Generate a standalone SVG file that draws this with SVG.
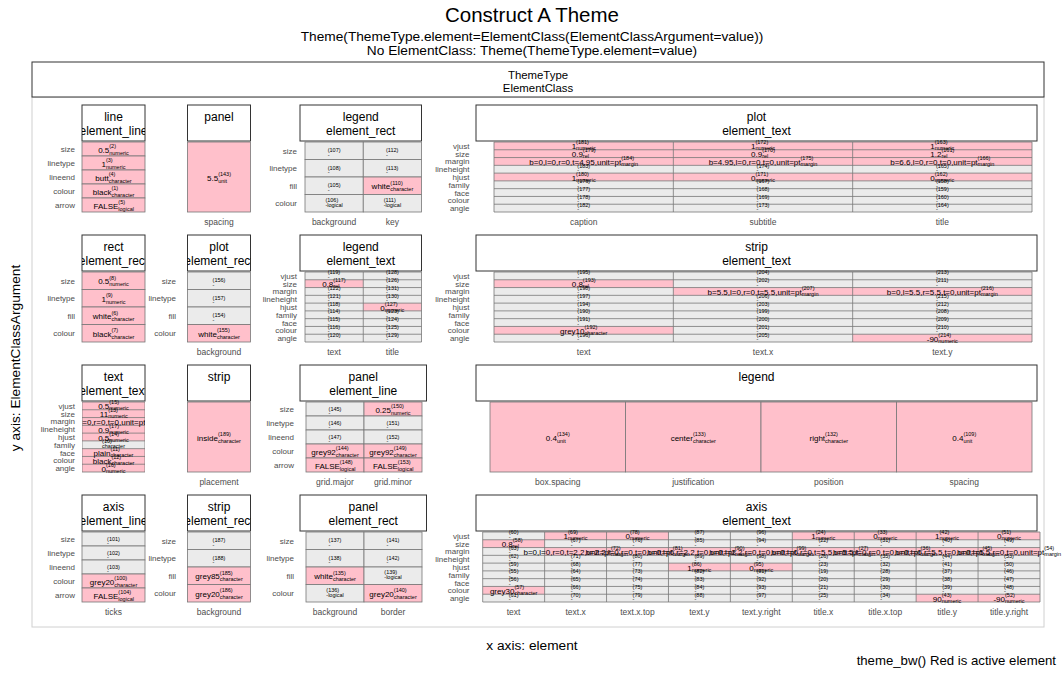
<svg xmlns="http://www.w3.org/2000/svg" width="1064" height="675" viewBox="0 0 1064 675">
<defs>
<style>
text{font-family:"Liberation Sans",Arial,sans-serif;fill:#000}
.t{font-size:20.5px;text-anchor:middle}
.st{font-size:13.7px;text-anchor:middle}
.cap{font-size:13.2px;text-anchor:end}
.sh{font-size:11.4px;text-anchor:middle}
.hd{font-size:12px;text-anchor:middle}
.hb{fill:#fff;stroke:#333;stroke-width:1}
.rl{font-size:8px;text-anchor:end;fill:#4d4d4d}
.rs{font-size:8px;text-anchor:end;fill:#4d4d4d}
.cl{font-size:8.5px;text-anchor:middle;fill:#4d4d4d}
.v{font-size:8px;text-anchor:end}
.s{font-size:5.5px}
.p{fill:#ffc0cb;stroke:#777;stroke-width:.8}
.q{fill:#ebebeb;stroke:#777;stroke-width:.8}
.pk{fill:#ffc0cb}
.gb{fill:#ebebeb}
.gr{fill:none;stroke:#777;stroke-width:.8}
</style>
<clipPath id="cA"><rect x="82" y="0" width="63" height="675"/></clipPath>
<clipPath id="cB"><rect x="187.5" y="0" width="63" height="675"/></clipPath>
</defs>
<rect x="0" y="0" width="1064" height="675" fill="#fff"/>
<g id="titles">
<text class="t" x="532" y="22">Construct A Theme</text>
<text class="st" x="532" y="41">Theme(ThemeType.element=ElementClass(ElementClassArgument=value))</text>
<text class="st" x="532" y="55">No ElementClass: Theme(ThemeType.element=value)</text>
<text class="st" x="532" y="650">x axis: element</text>
<text class="st" transform="translate(20 358) rotate(-90)" x="0" y="0">y axis: ElementClassArgument</text>
<text class="cap" x="1056" y="665">theme_bw() Red is active element</text>
</g>
<g id="panel-frame">
<rect x="32" y="97" width="1012" height="530" fill="#fff" stroke="#d0d0d0" stroke-width="1"/>
<rect class="hb" x="32" y="62" width="1012" height="35"/>
<text class="sh" x="538" y="79">ThemeType</text>
<text class="sh" x="538" y="92">ElementClass</text>
</g>

<!-- ROW 1 -->
<g id="line">
<rect class="hb" x="82" y="105" width="63" height="36"/>
<g clip-path="url(#cA)"><text class="hd" x="113.5" y="121">line</text><text class="hd" x="113.5" y="134.5">element_line</text></g>
<rect class="p" x="82" y="142" width="63" height="14"/><rect class="p" x="82" y="156" width="63" height="14"/><rect class="p" x="82" y="170" width="63" height="14"/><rect class="p" x="82" y="184" width="63" height="14"/><rect class="p" x="82" y="198" width="63" height="14"/>
<text class="v" x="109.25" y="152.5">0.5</text><text class="s" x="109.25" y="148">(2)<tspan x="109.25" y="154.5">numeric</tspan></text>
<text class="v" x="105.9" y="166.5">1</text><text class="s" x="105.9" y="162">(3)<tspan x="105.9" y="168.5">numeric</tspan></text>
<text class="v" x="108.7" y="180.5">butt</text><text class="s" x="108.7" y="176">(4)<tspan x="108.7" y="182.5">character</tspan></text>
<text class="v" x="111.4" y="194.5">black</text><text class="s" x="111.4" y="190">(1)<tspan x="111.4" y="196.5">character</tspan></text>
<text class="v" x="118.35" y="208.5">FALSE</text><text class="s" x="118.35" y="204">(5)<tspan x="118.35" y="210.5">logical</tspan></text>
<text class="rl" x="75" y="152">size</text><text class="rl" x="75" y="166">linetype</text><text class="rl" x="75" y="180">lineend</text><text class="rl" x="75" y="194">colour</text><text class="rl" x="75" y="208">arrow</text>
</g>
<g id="panel">
<rect class="hb" x="187.5" y="105" width="63" height="36"/>
<text class="hd" x="219" y="121">panel</text>
<rect class="p" x="187.5" y="142" width="63" height="70"/>
<text class="v" x="218.15" y="180.5">5.5</text><text class="s" x="218.15" y="176">(143)<tspan x="218.15" y="182.5">unit</tspan></text>
<text class="cl" x="219" y="225">spacing</text>
</g>
<g id="legend-rect">
<rect class="hb" x="300" y="105" width="121.5" height="36"/>
<text class="hd" x="360.75" y="121">legend</text><text class="hd" x="360.75" y="134.5">element_rect</text>
<rect class="q" x="305" y="142" width="58.25" height="17.5"/><rect class="q" x="305" y="159.5" width="58.25" height="17.5"/><rect class="q" x="305" y="177" width="58.25" height="17.5"/><rect class="q" x="305" y="194.5" width="58.25" height="17.5"/>
<rect class="q" x="363.25" y="142" width="58.25" height="17.5"/><rect class="q" x="363.25" y="159.5" width="58.25" height="17.5"/><rect class="p" x="363.25" y="177" width="58.25" height="17.5"/><rect class="q" x="363.25" y="194.5" width="58.25" height="17.5"/>
<text class="s" x="327.7" y="152.25">(107)<tspan x="327.7" y="156.75">-</tspan></text>
<text class="s" x="327.7" y="169.75">(108)<tspan x="327.7" y="174.25">-</tspan></text>
<text class="s" x="327.7" y="187.25">(105)<tspan x="327.7" y="191.75">-</tspan></text>
<text class="s" x="325.4" y="201.75">(106)<tspan x="325.4" y="206.75">-logical</tspan></text>
<text class="s" x="386" y="152.25">(112)<tspan x="386" y="156.75">-</tspan></text>
<text class="s" x="386" y="169.75">(113)<tspan x="386" y="174.25">-</tspan></text>
<text class="v" x="390.3" y="189.25">white</text><text class="s" x="390.3" y="184.75">(110)<tspan x="390.3" y="191.25">character</tspan></text>
<text class="s" x="383.7" y="201.75">(111)<tspan x="383.7" y="206.75">-logical</tspan></text>
<text class="rl" x="297" y="153.75">size</text><text class="rl" x="297" y="171.25">linetype</text><text class="rl" x="297" y="188.75">fill</text><text class="rl" x="297" y="206.25">colour</text>
<text class="cl" x="334.1" y="225">background</text><text class="cl" x="392.4" y="225">key</text>
</g>
<g id="plot-text">
<rect class="hb" x="476" y="105" width="561" height="36"/>
<text class="hd" x="756.5" y="121">plot</text><text class="hd" x="756.5" y="134.5">element_text</text>
<rect class="gb" x="494" y="142" width="538" height="70"/>
<rect class="pk" x="494" y="142" width="538" height="23.33"/>
<rect class="pk" x="494" y="173.11" width="538" height="7.78"/>
<path class="gr" d="M494 142H1032M494 149.78H1032M494 157.56H1032M494 165.33H1032M494 173.11H1032M494 180.89H1032M494 188.67H1032M494 196.44H1032M494 204.22H1032M494 212H1032M494 142V212M673.33 142V212M852.67 142V212M1032 142V212"/>
<text class="v" x="576.1" y="149.4">1</text><text class="s" x="576.1" y="144.4">(181)<tspan x="576.1" y="150.4">numeric</tspan></text>
<text class="v" x="582.85" y="157.2">0.9</text><text class="s" x="582.85" y="152.2">(179)<tspan x="582.85" y="158.2">rel</tspan></text>
<text class="v" x="621.2" y="164.9">b=0,l=0,r=0,t=4.95,unit=pt</text><text class="s" x="621.2" y="159.9">(184)<tspan x="621.2" y="165.9">margin</tspan></text>
<text class="s" x="577.3" y="167.7">(183)<tspan x="577.3" y="172.2">-</tspan></text>
<text class="v" x="576.1" y="180.5">1</text><text class="s" x="576.1" y="175.5">(180)<tspan x="576.1" y="181.5">numeric</tspan></text>
<text class="s" x="577.3" y="183.3">(176)<tspan x="577.3" y="187.8">-</tspan></text>
<text class="s" x="577.3" y="191.1">(177)<tspan x="577.3" y="195.6">-</tspan></text>
<text class="s" x="577.3" y="198.8">(178)<tspan x="577.3" y="203.3">-</tspan></text>
<text class="s" x="577.3" y="206.6">(182)<tspan x="577.3" y="211.1">-</tspan></text>
<text class="v" x="755.4" y="149.4">1</text><text class="s" x="755.4" y="144.4">(172)<tspan x="755.4" y="150.4">numeric</tspan></text>
<text class="v" x="762.15" y="157.2">0.9</text><text class="s" x="762.15" y="152.2">(170)<tspan x="762.15" y="158.2">rel</tspan></text>
<text class="v" x="800.5" y="164.9">b=4.95,l=0,r=0,t=0,unit=pt</text><text class="s" x="800.5" y="159.9">(175)<tspan x="800.5" y="165.9">margin</tspan></text>
<text class="s" x="756.6" y="167.7">(174)<tspan x="756.6" y="172.2">-</tspan></text>
<text class="v" x="755.4" y="180.5">0</text><text class="s" x="755.4" y="175.5">(171)<tspan x="755.4" y="181.5">numeric</tspan></text>
<text class="s" x="756.6" y="183.3">(167)<tspan x="756.6" y="187.8">-</tspan></text>
<text class="s" x="756.6" y="191.1">(168)<tspan x="756.6" y="195.6">-</tspan></text>
<text class="s" x="756.6" y="198.8">(169)<tspan x="756.6" y="203.3">-</tspan></text>
<text class="s" x="756.6" y="206.6">(173)<tspan x="756.6" y="211.1">-</tspan></text>
<text class="v" x="934.7" y="149.4">1</text><text class="s" x="934.7" y="144.4">(163)<tspan x="934.7" y="150.4">numeric</tspan></text>
<text class="v" x="941.45" y="157.2">1.2</text><text class="s" x="941.45" y="152.2">(161)<tspan x="941.45" y="158.2">rel</tspan></text>
<text class="v" x="977.6" y="164.9">b=6.6,l=0,r=0,t=0,unit=pt</text><text class="s" x="977.6" y="159.9">(166)<tspan x="977.6" y="165.9">margin</tspan></text>
<text class="s" x="935.9" y="167.7">(165)<tspan x="935.9" y="172.2">-</tspan></text>
<text class="v" x="934.7" y="180.5">0</text><text class="s" x="934.7" y="175.5">(162)<tspan x="934.7" y="181.5">numeric</tspan></text>
<text class="s" x="935.9" y="183.3">(158)<tspan x="935.9" y="187.8">-</tspan></text>
<text class="s" x="935.9" y="191.1">(159)<tspan x="935.9" y="195.6">-</tspan></text>
<text class="s" x="935.9" y="198.8">(160)<tspan x="935.9" y="203.3">-</tspan></text>
<text class="s" x="935.9" y="206.6">(164)<tspan x="935.9" y="211.1">-</tspan></text>
<text class="rs" x="469.5" y="148.9">vjust</text><text class="rs" x="469.5" y="156.7">size</text><text class="rs" x="469.5" y="164.4">margin</text><text class="rs" x="469.5" y="172.2">lineheight</text><text class="rs" x="469.5" y="180">hjust</text><text class="rs" x="469.5" y="187.8">family</text><text class="rs" x="469.5" y="195.6">face</text><text class="rs" x="469.5" y="203.3">colour</text><text class="rs" x="469.5" y="211.1">angle</text>
<text class="cl" x="583.7" y="225">caption</text><text class="cl" x="763" y="225">subtitle</text><text class="cl" x="942.3" y="225">title</text>
</g>

<!-- ROW 2 -->
<g id="rect">
<rect class="hb" x="82" y="235" width="63" height="36"/>
<g clip-path="url(#cA)"><text class="hd" x="113.5" y="251">rect</text><text class="hd" x="113.5" y="264.5">element_rect</text></g>
<rect class="p" x="82" y="272" width="63" height="17.5"/><rect class="p" x="82" y="289.5" width="63" height="17.5"/><rect class="p" x="82" y="307" width="63" height="17.5"/><rect class="p" x="82" y="324.5" width="63" height="17.5"/>
<text class="v" x="109.25" y="284.25">0.5</text><text class="s" x="109.25" y="279.75">(8)<tspan x="109.25" y="286.25">numeric</tspan></text>
<text class="v" x="105.9" y="301.75">1</text><text class="s" x="105.9" y="297.25">(9)<tspan x="105.9" y="303.75">numeric</tspan></text>
<text class="v" x="111.4" y="319.25">white</text><text class="s" x="111.4" y="314.75">(6)<tspan x="111.4" y="321.25">character</tspan></text>
<text class="v" x="111.4" y="336.75">black</text><text class="s" x="111.4" y="332.25">(7)<tspan x="111.4" y="338.75">character</tspan></text>
<text class="rl" x="75" y="283.75">size</text><text class="rl" x="75" y="301.25">linetype</text><text class="rl" x="75" y="318.75">fill</text><text class="rl" x="75" y="336.25">colour</text>
</g>
<g id="plot-rect">
<rect class="hb" x="187.5" y="235" width="63" height="36"/>
<g clip-path="url(#cB)"><text class="hd" x="219" y="251">plot</text><text class="hd" x="219" y="264.5">element_rect</text></g>
<rect class="q" x="187.5" y="272" width="63" height="17.5"/><rect class="q" x="187.5" y="289.5" width="63" height="17.5"/><rect class="q" x="187.5" y="307" width="63" height="17.5"/><rect class="p" x="187.5" y="324.5" width="63" height="17.5"/>
<text class="s" x="212.6" y="282.25">(156)<tspan x="212.6" y="286.75">-</tspan></text>
<text class="s" x="212.6" y="299.75">(157)<tspan x="212.6" y="304.25">-</tspan></text>
<text class="s" x="212.6" y="317.25">(154)<tspan x="212.6" y="321.75">-</tspan></text>
<text class="v" x="216.9" y="336.75">white</text><text class="s" x="216.9" y="332.25">(155)<tspan x="216.9" y="338.75">character</tspan></text>
<text class="rl" x="176" y="283.75">size</text><text class="rl" x="176" y="301.25">linetype</text><text class="rl" x="176" y="318.75">fill</text><text class="rl" x="176" y="336.25">colour</text>
<text class="cl" x="219" y="355">background</text>
</g>
<g id="legend-text">
<rect class="hb" x="300" y="235" width="121.5" height="36"/>
<text class="hd" x="360.75" y="251">legend</text><text class="hd" x="360.75" y="264.5">element_text</text>
<rect class="gb" x="305" y="272" width="116.5" height="70"/>
<rect class="pk" x="305" y="279.78" width="58.25" height="7.78"/>
<rect class="pk" x="363.25" y="303.11" width="58.25" height="7.78"/>
<path class="gr" d="M305 272H421.5M305 279.78H421.5M305 287.56H421.5M305 295.33H421.5M305 303.11H421.5M305 310.89H421.5M305 318.67H421.5M305 326.44H421.5M305 334.22H421.5M305 342H421.5M305 272V342M363.25 272V342M421.5 272V342"/>
<text class="s" x="327.7" y="274.4">(119)<tspan x="327.7" y="278.9">-</tspan></text>
<text class="v" x="333.25" y="287.2">0.8</text><text class="s" x="333.25" y="282.2">(117)<tspan x="333.25" y="288.2">rel</tspan></text>
<text class="s" x="327.7" y="289.9">(122)<tspan x="327.7" y="294.4">-</tspan></text>
<text class="s" x="327.7" y="297.7">(121)<tspan x="327.7" y="302.2">-</tspan></text>
<text class="s" x="327.7" y="305.5">(118)<tspan x="327.7" y="310">-</tspan></text>
<text class="s" x="327.7" y="313.3">(114)<tspan x="327.7" y="317.8">-</tspan></text>
<text class="s" x="327.7" y="321.1">(115)<tspan x="327.7" y="325.6">-</tspan></text>
<text class="s" x="327.7" y="328.8">(116)<tspan x="327.7" y="333.3">-</tspan></text>
<text class="s" x="327.7" y="336.6">(120)<tspan x="327.7" y="341.1">-</tspan></text>
<text class="s" x="386" y="274.4">(128)<tspan x="386" y="278.9">-</tspan></text>
<text class="s" x="386" y="282.2">(126)<tspan x="386" y="286.7">-</tspan></text>
<text class="s" x="386" y="289.9">(131)<tspan x="386" y="294.4">-</tspan></text>
<text class="s" x="386" y="297.7">(130)<tspan x="386" y="302.2">-</tspan></text>
<text class="v" x="384.8" y="310.5">0</text><text class="s" x="384.8" y="305.5">(127)<tspan x="384.8" y="311.5">numeric</tspan></text>
<text class="s" x="386" y="313.3">(123)<tspan x="386" y="317.8">-</tspan></text>
<text class="s" x="386" y="321.1">(124)<tspan x="386" y="325.6">-</tspan></text>
<text class="s" x="386" y="328.8">(125)<tspan x="386" y="333.3">-</tspan></text>
<text class="s" x="386" y="336.6">(129)<tspan x="386" y="341.1">-</tspan></text>
<text class="rs" x="297" y="278.9">vjust</text><text class="rs" x="297" y="286.7">size</text><text class="rs" x="297" y="294.4">margin</text><text class="rs" x="297" y="302.2">lineheight</text><text class="rs" x="297" y="310">hjust</text><text class="rs" x="297" y="317.8">family</text><text class="rs" x="297" y="325.6">face</text><text class="rs" x="297" y="333.3">colour</text><text class="rs" x="297" y="341.1">angle</text>
<text class="cl" x="334.1" y="355">text</text><text class="cl" x="392.4" y="355">title</text>
</g>
<g id="strip-text">
<rect class="hb" x="476" y="235" width="561" height="36"/>
<text class="hd" x="756.5" y="251">strip</text><text class="hd" x="756.5" y="264.5">element_text</text>
<rect class="gb" x="494" y="272" width="538" height="70"/>
<rect class="pk" x="494" y="279.78" width="179.33" height="7.78"/>
<rect class="pk" x="494" y="326.44" width="179.33" height="7.78"/>
<rect class="pk" x="673.33" y="287.56" width="358.67" height="7.78"/>
<rect class="pk" x="852.67" y="334.22" width="179.33" height="7.78"/>
<path class="gr" d="M494 272H1032M494 279.78H1032M494 287.56H1032M494 295.33H1032M494 303.11H1032M494 310.89H1032M494 318.67H1032M494 326.44H1032M494 334.22H1032M494 342H1032M494 272V342M673.33 272V342M852.67 272V342M1032 272V342"/>
<text class="s" x="577.3" y="274.4">(195)<tspan x="577.3" y="278.9">-</tspan></text>
<text class="v" x="582.85" y="287.2">0.8</text><text class="s" x="582.85" y="282.2">(193)<tspan x="582.85" y="288.2">rel</tspan></text>
<text class="s" x="577.3" y="289.9">(198)<tspan x="577.3" y="294.4">-</tspan></text>
<text class="s" x="577.3" y="297.7">(197)<tspan x="577.3" y="302.2">-</tspan></text>
<text class="s" x="577.3" y="305.5">(194)<tspan x="577.3" y="310">-</tspan></text>
<text class="s" x="577.3" y="313.3">(190)<tspan x="577.3" y="317.8">-</tspan></text>
<text class="s" x="577.3" y="321.1">(191)<tspan x="577.3" y="325.6">-</tspan></text>
<text class="v" x="584.5" y="333.8">grey10</text><text class="s" x="584.5" y="328.8">(192)<tspan x="584.5" y="334.8">character</tspan></text>
<text class="s" x="577.3" y="336.6">(196)<tspan x="577.3" y="341.1">-</tspan></text>
<text class="s" x="756.6" y="274.4">(204)<tspan x="756.6" y="278.9">-</tspan></text>
<text class="s" x="756.6" y="282.2">(202)<tspan x="756.6" y="286.7">-</tspan></text>
<text class="v" x="801.65" y="294.9">b=5.5,l=0,r=0,t=5.5,unit=pt</text><text class="s" x="801.65" y="289.9">(207)<tspan x="801.65" y="295.9">margin</tspan></text>
<text class="s" x="756.6" y="297.7">(206)<tspan x="756.6" y="302.2">-</tspan></text>
<text class="s" x="756.6" y="305.5">(203)<tspan x="756.6" y="310">-</tspan></text>
<text class="s" x="756.6" y="313.3">(199)<tspan x="756.6" y="317.8">-</tspan></text>
<text class="s" x="756.6" y="321.1">(200)<tspan x="756.6" y="325.6">-</tspan></text>
<text class="s" x="756.6" y="328.8">(201)<tspan x="756.6" y="333.3">-</tspan></text>
<text class="s" x="756.6" y="336.6">(205)<tspan x="756.6" y="341.1">-</tspan></text>
<text class="s" x="935.9" y="274.4">(213)<tspan x="935.9" y="278.9">-</tspan></text>
<text class="s" x="935.9" y="282.2">(211)<tspan x="935.9" y="286.7">-</tspan></text>
<text class="v" x="980.95" y="294.9">b=0,l=5.5,r=5.5,t=0,unit=pt</text><text class="s" x="980.95" y="289.9">(216)<tspan x="980.95" y="295.9">margin</tspan></text>
<text class="s" x="935.9" y="297.7">(215)<tspan x="935.9" y="302.2">-</tspan></text>
<text class="s" x="935.9" y="305.5">(212)<tspan x="935.9" y="310">-</tspan></text>
<text class="s" x="935.9" y="313.3">(208)<tspan x="935.9" y="317.8">-</tspan></text>
<text class="s" x="935.9" y="321.1">(209)<tspan x="935.9" y="325.6">-</tspan></text>
<text class="s" x="935.9" y="328.8">(210)<tspan x="935.9" y="333.3">-</tspan></text>
<text class="v" x="938.3" y="341.6">-90</text><text class="s" x="938.3" y="336.6">(214)<tspan x="938.3" y="342.6">numeric</tspan></text>
<text class="rs" x="469.5" y="278.9">vjust</text><text class="rs" x="469.5" y="286.7">size</text><text class="rs" x="469.5" y="294.4">margin</text><text class="rs" x="469.5" y="302.2">lineheight</text><text class="rs" x="469.5" y="310">hjust</text><text class="rs" x="469.5" y="317.8">family</text><text class="rs" x="469.5" y="325.6">face</text><text class="rs" x="469.5" y="333.3">colour</text><text class="rs" x="469.5" y="341.1">angle</text>
<text class="cl" x="583.7" y="355">text</text><text class="cl" x="763" y="355">text.x</text><text class="cl" x="942.3" y="355">text.y</text>
</g>

<!-- ROW 3 -->
<g id="text">
<rect class="hb" x="82" y="365" width="63" height="36"/>
<g clip-path="url(#cA)">
<text class="hd" x="113.5" y="381">text</text><text class="hd" x="113.5" y="394.5">element_text</text>
<rect class="pk" x="82" y="402" width="63" height="70"/>
<rect class="gb" x="82" y="440.89" width="63" height="7.78"/>
<path class="gr" d="M82 402H145M82 409.78H145M82 417.56H145M82 425.33H145M82 433.11H145M82 440.89H145M82 448.67H145M82 456.44H145M82 464.22H145M82 472H145M82 402V472M145 402V472"/>
<text class="v" x="109.25" y="409.4">0.5</text><text class="s" x="109.25" y="404.4">(15)<tspan x="109.25" y="410.4">numeric</tspan></text>
<text class="v" x="108.15" y="417.2">11</text><text class="s" x="108.15" y="412.2">(13)<tspan x="108.15" y="418.2">numeric</tspan></text>
<text class="v" x="145.45" y="424.9">b=0,l=0,r=0,t=0,unit=pt</text><text class="s" x="145.45" y="419.9">(18)<tspan x="145.45" y="425.9">margin</tspan></text>
<text class="v" x="109.25" y="432.7">0.9</text><text class="s" x="109.25" y="427.7">(17)<tspan x="109.25" y="433.7">numeric</tspan></text>
<text class="v" x="109.25" y="440.5">0.5</text><text class="s" x="109.25" y="435.5">(14)<tspan x="109.25" y="441.5">numeric</tspan></text>
<text class="s" x="102.05" y="443.3">(10)<tspan x="102.05" y="447.8">character</tspan></text>
<text class="v" x="110.5" y="456.1">plain</text><text class="s" x="110.5" y="451.1">(11)<tspan x="110.5" y="457.1">character</tspan></text>
<text class="v" x="111.4" y="463.8">black</text><text class="s" x="111.4" y="458.8">(12)<tspan x="111.4" y="464.8">character</tspan></text>
<text class="v" x="105.9" y="471.6">0</text><text class="s" x="105.9" y="466.6">(16)<tspan x="105.9" y="472.6">numeric</tspan></text>
</g>
<text class="rs" x="75" y="408.9">vjust</text><text class="rs" x="75" y="416.7">size</text><text class="rs" x="75" y="424.4">margin</text><text class="rs" x="75" y="432.2">lineheight</text><text class="rs" x="75" y="440">hjust</text><text class="rs" x="75" y="447.8">family</text><text class="rs" x="75" y="455.6">face</text><text class="rs" x="75" y="463.3">colour</text><text class="rs" x="75" y="471.1">angle</text>
</g>
<g id="strip">
<rect class="hb" x="187.5" y="365" width="63" height="36"/>
<text class="hd" x="219" y="381">strip</text>
<rect class="p" x="187.5" y="402" width="63" height="70"/>
<text class="v" x="218" y="440.5">inside</text><text class="s" x="218" y="436">(189)<tspan x="218" y="442.5">character</tspan></text>
<text class="cl" x="219" y="485">placement</text>
</g>
<g id="panel-line">
<rect class="hb" x="300" y="365" width="126.5" height="36"/>
<text class="hd" x="363.25" y="381">panel</text><text class="hd" x="363.25" y="394.5">element_line</text>
<rect class="q" x="306" y="402" width="58" height="14"/><rect class="q" x="306" y="416" width="58" height="14"/><rect class="q" x="306" y="430" width="58" height="14"/><rect class="p" x="306" y="444" width="58" height="14"/><rect class="p" x="306" y="458" width="58" height="14"/>
<rect class="p" x="364" y="402" width="58" height="14"/><rect class="q" x="364" y="416" width="58" height="14"/><rect class="q" x="364" y="430" width="58" height="14"/><rect class="p" x="364" y="444" width="58" height="14"/><rect class="p" x="364" y="458" width="58" height="14"/>
<text class="s" x="328.6" y="410.5">(145)<tspan x="328.6" y="415">-</tspan></text>
<text class="s" x="328.6" y="424.5">(146)<tspan x="328.6" y="429">-</tspan></text>
<text class="s" x="328.6" y="438.5">(147)<tspan x="328.6" y="443">-</tspan></text>
<text class="v" x="335.8" y="454.5">grey92</text><text class="s" x="335.8" y="450">(144)<tspan x="335.8" y="456.5">character</tspan></text>
<text class="v" x="339.85" y="468.5">FALSE</text><text class="s" x="339.85" y="464">(148)<tspan x="339.85" y="470.5">logical</tspan></text>
<text class="v" x="391" y="412.5">0.25</text><text class="s" x="391" y="408">(150)<tspan x="391" y="414.5">numeric</tspan></text>
<text class="s" x="386.6" y="424.5">(151)<tspan x="386.6" y="429">-</tspan></text>
<text class="s" x="386.6" y="438.5">(152)<tspan x="386.6" y="443">-</tspan></text>
<text class="v" x="393.8" y="454.5">grey92</text><text class="s" x="393.8" y="450">(149)<tspan x="393.8" y="456.5">character</tspan></text>
<text class="v" x="397.85" y="468.5">FALSE</text><text class="s" x="397.85" y="464">(153)<tspan x="397.85" y="470.5">logical</tspan></text>
<text class="rl" x="294" y="412">size</text><text class="rl" x="294" y="426">linetype</text><text class="rl" x="294" y="440">lineend</text><text class="rl" x="294" y="454">colour</text><text class="rl" x="294" y="468">arrow</text>
<text class="cl" x="335" y="485">grid.major</text><text class="cl" x="393" y="485">grid.minor</text>
</g>
<g id="legend">
<rect class="hb" x="476" y="365" width="561" height="36"/>
<text class="hd" x="756.5" y="381">legend</text>
<rect class="p" x="490" y="402" width="135.5" height="70"/><rect class="p" x="625.5" y="402" width="135.5" height="70"/><rect class="p" x="761" y="402" width="135.5" height="70"/><rect class="p" x="896.5" y="402" width="135.5" height="70"/>
<text class="v" x="556.9" y="440.5">0.4</text><text class="s" x="556.9" y="436">(134)<tspan x="556.9" y="442.5">unit</tspan></text>
<text class="v" x="692.9" y="440.5">center</text><text class="s" x="692.9" y="436">(133)<tspan x="692.9" y="442.5">character</tspan></text>
<text class="v" x="825.1" y="440.5">right</text><text class="s" x="825.1" y="436">(132)<tspan x="825.1" y="442.5">character</tspan></text>
<text class="v" x="963.4" y="440.5">0.4</text><text class="s" x="963.4" y="436">(109)<tspan x="963.4" y="442.5">unit</tspan></text>
<text class="cl" x="557.75" y="485">box.spacing</text><text class="cl" x="693.25" y="485">justification</text><text class="cl" x="828.75" y="485">position</text><text class="cl" x="964.25" y="485">spacing</text>
</g>

<!-- ROW 4 -->
<g id="axis-line">
<rect class="hb" x="82" y="495" width="63" height="36"/>
<g clip-path="url(#cA)"><text class="hd" x="113.5" y="511">axis</text><text class="hd" x="113.5" y="524.5">element_line</text></g>
<rect class="q" x="82" y="532" width="63" height="14"/><rect class="q" x="82" y="546" width="63" height="14"/><rect class="q" x="82" y="560" width="63" height="14"/><rect class="p" x="82" y="574" width="63" height="14"/><rect class="p" x="82" y="588" width="63" height="14"/>
<text class="s" x="107.1" y="540.5">(101)<tspan x="107.1" y="545">-</tspan></text>
<text class="s" x="107.1" y="554.5">(102)<tspan x="107.1" y="559">-</tspan></text>
<text class="s" x="107.1" y="568.5">(103)<tspan x="107.1" y="573">-</tspan></text>
<text class="v" x="114.3" y="584.5">grey20</text><text class="s" x="114.3" y="580">(100)<tspan x="114.3" y="586.5">character</tspan></text>
<text class="v" x="118.35" y="598.5">FALSE</text><text class="s" x="118.35" y="594">(104)<tspan x="118.35" y="600.5">logical</tspan></text>
<text class="rl" x="75" y="542">size</text><text class="rl" x="75" y="556">linetype</text><text class="rl" x="75" y="570">lineend</text><text class="rl" x="75" y="584">colour</text><text class="rl" x="75" y="598">arrow</text>
<text class="cl" x="113.5" y="615">ticks</text>
</g>
<g id="strip-rect">
<rect class="hb" x="187.5" y="495" width="63" height="36"/>
<g clip-path="url(#cB)"><text class="hd" x="219" y="511">strip</text><text class="hd" x="219" y="524.5">element_rect</text></g>
<rect class="q" x="187.5" y="532" width="63" height="17.5"/><rect class="q" x="187.5" y="549.5" width="63" height="17.5"/><rect class="p" x="187.5" y="567" width="63" height="17.5"/><rect class="p" x="187.5" y="584.5" width="63" height="17.5"/>
<text class="s" x="212.6" y="542.25">(187)<tspan x="212.6" y="546.75">-</tspan></text>
<text class="s" x="212.6" y="559.75">(188)<tspan x="212.6" y="564.25">-</tspan></text>
<text class="v" x="219.8" y="579.25">grey85</text><text class="s" x="219.8" y="574.75">(185)<tspan x="219.8" y="581.25">character</tspan></text>
<text class="v" x="219.8" y="596.75">grey20</text><text class="s" x="219.8" y="592.25">(186)<tspan x="219.8" y="598.75">character</tspan></text>
<text class="rl" x="176" y="543.75">size</text><text class="rl" x="176" y="561.25">linetype</text><text class="rl" x="176" y="578.75">fill</text><text class="rl" x="176" y="596.25">colour</text>
<text class="cl" x="219" y="615">background</text>
</g>
<g id="panel-rect">
<rect class="hb" x="300" y="495" width="126.5" height="36"/>
<text class="hd" x="363.25" y="511">panel</text><text class="hd" x="363.25" y="524.5">element_rect</text>
<rect class="q" x="306" y="532" width="58" height="17.5"/><rect class="q" x="306" y="549.5" width="58" height="17.5"/><rect class="p" x="306" y="567" width="58" height="17.5"/><rect class="q" x="306" y="584.5" width="58" height="17.5"/>
<rect class="q" x="364" y="532" width="58" height="17.5"/><rect class="q" x="364" y="549.5" width="58" height="17.5"/><rect class="q" x="364" y="567" width="58" height="17.5"/><rect class="p" x="364" y="584.5" width="58" height="17.5"/>
<text class="s" x="328.6" y="542.25">(137)<tspan x="328.6" y="546.75">-</tspan></text>
<text class="s" x="328.6" y="559.75">(138)<tspan x="328.6" y="564.25">-</tspan></text>
<text class="v" x="332.9" y="579.25">white</text><text class="s" x="332.9" y="574.75">(135)<tspan x="332.9" y="581.25">character</tspan></text>
<text class="s" x="326.3" y="591.75">(136)<tspan x="326.3" y="596.75">-logical</tspan></text>
<text class="s" x="386.6" y="542.25">(141)<tspan x="386.6" y="546.75">-</tspan></text>
<text class="s" x="386.6" y="559.75">(142)<tspan x="386.6" y="564.25">-</tspan></text>
<text class="s" x="384.3" y="574.25">(139)<tspan x="384.3" y="579.25">-logical</tspan></text>
<text class="v" x="393.8" y="596.75">grey20</text><text class="s" x="393.8" y="592.25">(140)<tspan x="393.8" y="598.75">character</tspan></text>
<text class="rl" x="294" y="543.75">size</text><text class="rl" x="294" y="561.25">linetype</text><text class="rl" x="294" y="578.75">fill</text><text class="rl" x="294" y="596.25">colour</text>
<text class="cl" x="335" y="615">background</text><text class="cl" x="393" y="615">border</text>
</g>
<g id="axis-text">
<rect class="hb" x="476" y="495" width="561" height="36"/>
<text class="hd" x="756.5" y="511">axis</text><text class="hd" x="756.5" y="524.5">element_text</text>
<rect class="gb" x="482.7" y="532" width="557.3" height="70"/>
<rect class="pk" x="482.7" y="539.78" width="61.92" height="7.78"/>
<rect class="pk" x="482.7" y="586.44" width="61.92" height="7.78"/>
<rect class="pk" x="544.62" y="532" width="123.84" height="7.78"/>
<rect class="pk" x="792.3" y="532" width="247.7" height="7.78"/>
<rect class="pk" x="544.62" y="547.56" width="495.38" height="7.78"/>
<rect class="pk" x="668.46" y="563.11" width="123.84" height="7.78"/>
<rect class="pk" x="916.14" y="594.22" width="123.86" height="7.78"/>
<path class="gr" d="M482.7 532H1040M482.7 539.78H1040M482.7 547.56H1040M482.7 555.33H1040M482.7 563.11H1040M482.7 570.89H1040M482.7 578.67H1040M482.7 586.44H1040M482.7 594.22H1040M482.7 602H1040M482.7 532V602M544.62 532V602M606.54 532V602M668.46 532V602M730.38 532V602M792.3 532V602M854.22 532V602M916.14 532V602M978.06 532V602M1040 532V602"/>
<text class="s" x="508.7" y="534.4">(60)<tspan x="508.7" y="538.9">-</tspan></text>
<text class="v" x="512.75" y="547.2">0.8</text><text class="s" x="512.75" y="542.2">(58)<tspan x="512.75" y="548.2">rel</tspan></text>
<text class="s" x="508.7" y="549.9">(63)<tspan x="508.7" y="554.4">-</tspan></text>
<text class="s" x="508.7" y="557.7">(62)<tspan x="508.7" y="562.2">-</tspan></text>
<text class="s" x="508.7" y="565.5">(59)<tspan x="508.7" y="570">-</tspan></text>
<text class="s" x="508.7" y="573.3">(55)<tspan x="508.7" y="577.8">-</tspan></text>
<text class="s" x="508.7" y="581.1">(56)<tspan x="508.7" y="585.6">-</tspan></text>
<text class="v" x="514.4" y="593.8">grey30</text><text class="s" x="514.4" y="588.8">(57)<tspan x="514.4" y="594.8">character</tspan></text>
<text class="s" x="508.7" y="596.6">(61)<tspan x="508.7" y="601.1">-</tspan></text>
<text class="v" x="568" y="539.4">1</text><text class="s" x="568" y="534.4">(69)<tspan x="568" y="540.4">numeric</tspan></text>
<text class="s" x="570.7" y="542.2">(67)<tspan x="570.7" y="546.7">-</tspan></text>
<text class="v" x="610.9" y="554.9">b=0,l=0,r=0,t=2.2,unit=pt</text><text class="s" x="610.9" y="549.9">(72)<tspan x="610.9" y="555.9">margin</tspan></text>
<text class="s" x="570.7" y="557.7">(71)<tspan x="570.7" y="562.2">-</tspan></text>
<text class="s" x="570.7" y="565.5">(68)<tspan x="570.7" y="570">-</tspan></text>
<text class="s" x="570.7" y="573.3">(64)<tspan x="570.7" y="577.8">-</tspan></text>
<text class="s" x="570.7" y="581.1">(65)<tspan x="570.7" y="585.6">-</tspan></text>
<text class="s" x="570.7" y="588.8">(66)<tspan x="570.7" y="593.3">-</tspan></text>
<text class="s" x="570.7" y="596.6">(70)<tspan x="570.7" y="601.1">-</tspan></text>
<text class="v" x="629.9" y="539.4">0</text><text class="s" x="629.9" y="534.4">(78)<tspan x="629.9" y="540.4">numeric</tspan></text>
<text class="s" x="632.6" y="542.2">(76)<tspan x="632.6" y="546.7">-</tspan></text>
<text class="v" x="672.8" y="554.9">b=2.2,l=0,r=0,t=0,unit=pt</text><text class="s" x="672.8" y="549.9">(81)<tspan x="672.8" y="555.9">margin</tspan></text>
<text class="s" x="632.6" y="557.7">(80)<tspan x="632.6" y="562.2">-</tspan></text>
<text class="s" x="632.6" y="565.5">(77)<tspan x="632.6" y="570">-</tspan></text>
<text class="s" x="632.6" y="573.3">(73)<tspan x="632.6" y="577.8">-</tspan></text>
<text class="s" x="632.6" y="581.1">(74)<tspan x="632.6" y="585.6">-</tspan></text>
<text class="s" x="632.6" y="588.8">(75)<tspan x="632.6" y="593.3">-</tspan></text>
<text class="s" x="632.6" y="596.6">(79)<tspan x="632.6" y="601.1">-</tspan></text>
<text class="s" x="694.5" y="534.4">(87)<tspan x="694.5" y="538.9">-</tspan></text>
<text class="s" x="694.5" y="542.2">(85)<tspan x="694.5" y="546.7">-</tspan></text>
<text class="v" x="734.7" y="554.9">b=0,l=0,r=2.2,t=0,unit=pt</text><text class="s" x="734.7" y="549.9">(90)<tspan x="734.7" y="555.9">margin</tspan></text>
<text class="s" x="694.5" y="557.7">(89)<tspan x="694.5" y="562.2">-</tspan></text>
<text class="v" x="691.8" y="570.5">1</text><text class="s" x="691.8" y="565.5">(86)<tspan x="691.8" y="571.5">numeric</tspan></text>
<text class="s" x="694.5" y="573.3">(82)<tspan x="694.5" y="577.8">-</tspan></text>
<text class="s" x="694.5" y="581.1">(83)<tspan x="694.5" y="585.6">-</tspan></text>
<text class="s" x="694.5" y="588.8">(84)<tspan x="694.5" y="593.3">-</tspan></text>
<text class="s" x="694.5" y="596.6">(88)<tspan x="694.5" y="601.1">-</tspan></text>
<text class="s" x="756.4" y="534.4">(96)<tspan x="756.4" y="538.9">-</tspan></text>
<text class="s" x="756.4" y="542.2">(94)<tspan x="756.4" y="546.7">-</tspan></text>
<text class="v" x="796.6" y="554.9">b=0,l=2.2,r=0,t=0,unit=pt</text><text class="s" x="796.6" y="549.9">(99)<tspan x="796.6" y="555.9">margin</tspan></text>
<text class="s" x="756.4" y="557.7">(98)<tspan x="756.4" y="562.2">-</tspan></text>
<text class="v" x="753.7" y="570.5">0</text><text class="s" x="753.7" y="565.5">(95)<tspan x="753.7" y="571.5">numeric</tspan></text>
<text class="s" x="756.4" y="573.3">(91)<tspan x="756.4" y="577.8">-</tspan></text>
<text class="s" x="756.4" y="581.1">(92)<tspan x="756.4" y="585.6">-</tspan></text>
<text class="s" x="756.4" y="588.8">(93)<tspan x="756.4" y="593.3">-</tspan></text>
<text class="s" x="756.4" y="596.6">(97)<tspan x="756.4" y="601.1">-</tspan></text>
<text class="v" x="815.7" y="539.4">1</text><text class="s" x="815.7" y="534.4">(24)<tspan x="815.7" y="540.4">numeric</tspan></text>
<text class="s" x="818.4" y="542.2">(22)<tspan x="818.4" y="546.7">-</tspan></text>
<text class="v" x="858.6" y="554.9">b=0,l=0,r=0,t=5.5,unit=pt</text><text class="s" x="858.6" y="549.9">(27)<tspan x="858.6" y="555.9">margin</tspan></text>
<text class="s" x="818.4" y="557.7">(26)<tspan x="818.4" y="562.2">-</tspan></text>
<text class="s" x="818.4" y="565.5">(23)<tspan x="818.4" y="570">-</tspan></text>
<text class="s" x="818.4" y="573.3">(19)<tspan x="818.4" y="577.8">-</tspan></text>
<text class="s" x="818.4" y="581.1">(20)<tspan x="818.4" y="585.6">-</tspan></text>
<text class="s" x="818.4" y="588.8">(21)<tspan x="818.4" y="593.3">-</tspan></text>
<text class="s" x="818.4" y="596.6">(25)<tspan x="818.4" y="601.1">-</tspan></text>
<text class="v" x="877.6" y="539.4">0</text><text class="s" x="877.6" y="534.4">(33)<tspan x="877.6" y="540.4">numeric</tspan></text>
<text class="s" x="880.3" y="542.2">(31)<tspan x="880.3" y="546.7">-</tspan></text>
<text class="v" x="920.5" y="554.9">b=5.5,l=0,r=0,t=0,unit=pt</text><text class="s" x="920.5" y="549.9">(36)<tspan x="920.5" y="555.9">margin</tspan></text>
<text class="s" x="880.3" y="557.7">(35)<tspan x="880.3" y="562.2">-</tspan></text>
<text class="s" x="880.3" y="565.5">(32)<tspan x="880.3" y="570">-</tspan></text>
<text class="s" x="880.3" y="573.3">(28)<tspan x="880.3" y="577.8">-</tspan></text>
<text class="s" x="880.3" y="581.1">(29)<tspan x="880.3" y="585.6">-</tspan></text>
<text class="s" x="880.3" y="588.8">(30)<tspan x="880.3" y="593.3">-</tspan></text>
<text class="s" x="880.3" y="596.6">(34)<tspan x="880.3" y="601.1">-</tspan></text>
<text class="v" x="939.5" y="539.4">1</text><text class="s" x="939.5" y="534.4">(42)<tspan x="939.5" y="540.4">numeric</tspan></text>
<text class="s" x="942.2" y="542.2">(40)<tspan x="942.2" y="546.7">-</tspan></text>
<text class="v" x="982.4" y="554.9">b=0,l=0,r=5.5,t=0,unit=pt</text><text class="s" x="982.4" y="549.9">(45)<tspan x="982.4" y="555.9">margin</tspan></text>
<text class="s" x="942.2" y="557.7">(44)<tspan x="942.2" y="562.2">-</tspan></text>
<text class="s" x="942.2" y="565.5">(41)<tspan x="942.2" y="570">-</tspan></text>
<text class="s" x="942.2" y="573.3">(37)<tspan x="942.2" y="577.8">-</tspan></text>
<text class="s" x="942.2" y="581.1">(38)<tspan x="942.2" y="585.6">-</tspan></text>
<text class="s" x="942.2" y="588.8">(39)<tspan x="942.2" y="593.3">-</tspan></text>
<text class="v" x="941.75" y="601.6">90</text><text class="s" x="941.75" y="596.6">(43)<tspan x="941.75" y="602.6">numeric</tspan></text>
<text class="v" x="1001.4" y="539.4">0</text><text class="s" x="1001.4" y="534.4">(51)<tspan x="1001.4" y="540.4">numeric</tspan></text>
<text class="s" x="1004.1" y="542.2">(49)<tspan x="1004.1" y="546.7">-</tspan></text>
<text class="v" x="1044.3" y="554.9">b=0,l=5.5,r=0,t=0,unit=pt</text><text class="s" x="1044.3" y="549.9">(54)<tspan x="1044.3" y="555.9">margin</tspan></text>
<text class="s" x="1004.1" y="557.7">(53)<tspan x="1004.1" y="562.2">-</tspan></text>
<text class="s" x="1004.1" y="565.5">(50)<tspan x="1004.1" y="570">-</tspan></text>
<text class="s" x="1004.1" y="573.3">(46)<tspan x="1004.1" y="577.8">-</tspan></text>
<text class="s" x="1004.1" y="581.1">(47)<tspan x="1004.1" y="585.6">-</tspan></text>
<text class="s" x="1004.1" y="588.8">(48)<tspan x="1004.1" y="593.3">-</tspan></text>
<text class="v" x="1005" y="601.6">-90</text><text class="s" x="1005" y="596.6">(52)<tspan x="1005" y="602.6">numeric</tspan></text>
<text class="rs" x="469.5" y="538.9">vjust</text><text class="rs" x="469.5" y="546.7">size</text><text class="rs" x="469.5" y="554.4">margin</text><text class="rs" x="469.5" y="562.2">lineheight</text><text class="rs" x="469.5" y="570">hjust</text><text class="rs" x="469.5" y="577.8">family</text><text class="rs" x="469.5" y="585.6">face</text><text class="rs" x="469.5" y="593.3">colour</text><text class="rs" x="469.5" y="601.1">angle</text>
<text class="cl" x="513.6" y="615">text</text><text class="cl" x="575.6" y="615">text.x</text><text class="cl" x="637.5" y="615">text.x.top</text><text class="cl" x="699.4" y="615">text.y</text><text class="cl" x="761.3" y="615">text.y.right</text><text class="cl" x="823.3" y="615">title.x</text><text class="cl" x="885.2" y="615">title.x.top</text><text class="cl" x="947.1" y="615">title.y</text><text class="cl" x="1009" y="615">title.y.right</text>
</g>
</svg>
